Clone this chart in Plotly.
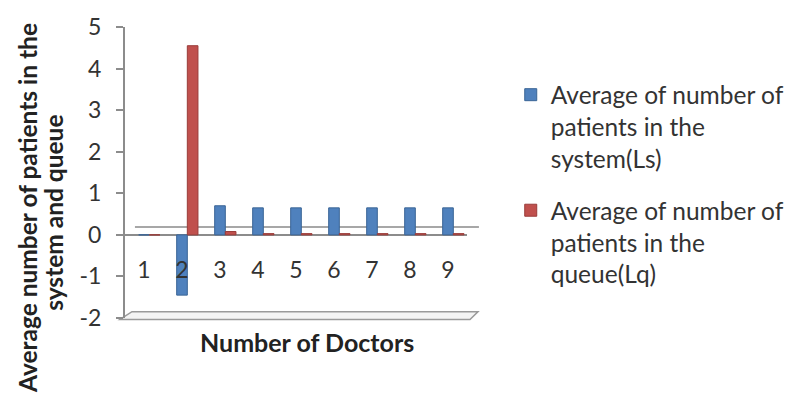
import plotly.graph_objects as go

# Number of doctors (categories) and the two queue measures
doctors = ["1", "2", "3", "4", "5", "6", "7", "8", "9"]
positions = [1, 2, 3, 4, 5, 6, 7, 8, 9]
ls_values = [0, -1.45, 0.70, 0.65, 0.65, 0.65, 0.65, 0.65, 0.65]
lq_values = [0, 4.55, 0.08, 0.03, 0.03, 0.03, 0.03, 0.03, 0.03]

y_ticks = [-2, -1, 0, 1, 2, 3, 4, 5]
y_tick_text = ["-2", "-1", "0", "1", "2", "3", "4", "5"]

ls_name = "Average of number of<br>patients in the<br>system(Ls)"
lq_name = "Average of number of<br>patients in the<br>queue(Lq)"

FONT = "Lato"
AXIS_GRAY = "#8c8c8c"

fig = go.Figure()
fig.add_trace(go.Bar(
    x=positions, y=ls_values, name=ls_name, legendgroup="ls",
    width=0.28, offset=-0.14,
    marker=dict(color="#4F81BD", line=dict(color="#3A6596", width=1)),
))
fig.add_trace(go.Bar(
    x=positions, y=lq_values, name=lq_name, legendgroup="lq",
    width=0.28, offset=0.14,
    marker=dict(color="#C0504D", line=dict(color="#9A3C39", width=1)),
))

# helpers to place decorations in paper space (plot area 125..469 x, 19.5..318.5 y)
def px(x):
    return (x - 125) / 344.0

def py(y):
    return (318.5 - y) / 299.0

shapes = [
    # floor slab of the 3-D look
    dict(type="path", xref="paper", yref="paper",
         path=(f"M {px(120)},{py(320)} L {px(132)},{py(312)} "
               f"L {px(480)},{py(312)} L {px(472)},{py(320)} Z"),
         fillcolor="#f4f4f4", line=dict(color="#9a9a9a", width=1.5), layer="below"),
    # back edge of the zero plane
    dict(type="line", xref="paper", yref="paper",
         x0=px(135), x1=px(481), y0=py(225), y1=py(225),
         line=dict(color="#8a8a8a", width=1.5), layer="below"),
]

title_font = dict(family=FONT, size=24.5, color="#222")
annotations = [
    dict(text="<b>Average number of patients in the</b>",
         xref="paper", yref="paper", x=px(27), y=py(206),
         xanchor="center", yanchor="middle", textangle=-90, showarrow=False,
         font=title_font),
    dict(text="<b>system and queue</b>",
         xref="paper", yref="paper", x=px(53), y=py(210),
         xanchor="center", yanchor="middle", textangle=-90, showarrow=False,
         font=title_font),
    dict(text="<b>Number of Doctors</b>",
         xref="paper", yref="paper", x=px(308), y=py(343),
         xanchor="center", yanchor="middle", showarrow=False,
         font=dict(family=FONT, size=25, color="#222")),
]

fig.update_layout(
    width=801, height=401,
    margin=dict(l=125, r=332, t=19, b=83),
    paper_bgcolor="white", plot_bgcolor="white",
    barmode="overlay",
    font=dict(family=FONT, size=23, color="#333"),
    showlegend=True,
    legend=dict(
        x=px(513), y=py(66), xanchor="left", yanchor="top",
        font=dict(family=FONT, size=24.5, color="#333"),
        traceorder="grouped", tracegroupgap=17, valign="top",
        itemwidth=30, bgcolor="rgba(0,0,0,0)",
    ),
    xaxis=dict(
        range=[0.5, 9.5], tickvals=positions, ticktext=doctors,
        showline=False, showgrid=False, zeroline=False, ticks="",
        anchor="free", position=py(253),
        tickfont=dict(family=FONT, size=23, color="#333"),
    ),
    yaxis=dict(
        range=[-2, 5], tickvals=y_ticks, ticktext=y_tick_text, showgrid=False,
        zeroline=True, zerolinecolor=AXIS_GRAY, zerolinewidth=1.5,
        showline=True, linecolor=AXIS_GRAY, linewidth=2,
        ticks="outside", ticklen=7, tickcolor=AXIS_GRAY, tickwidth=1.5,
        ticklabelstandoff=10,
        tickfont=dict(family=FONT, size=23, color="#333"),
    ),
    shapes=shapes,
    annotations=annotations,
)

fig.write_html("out.html")
